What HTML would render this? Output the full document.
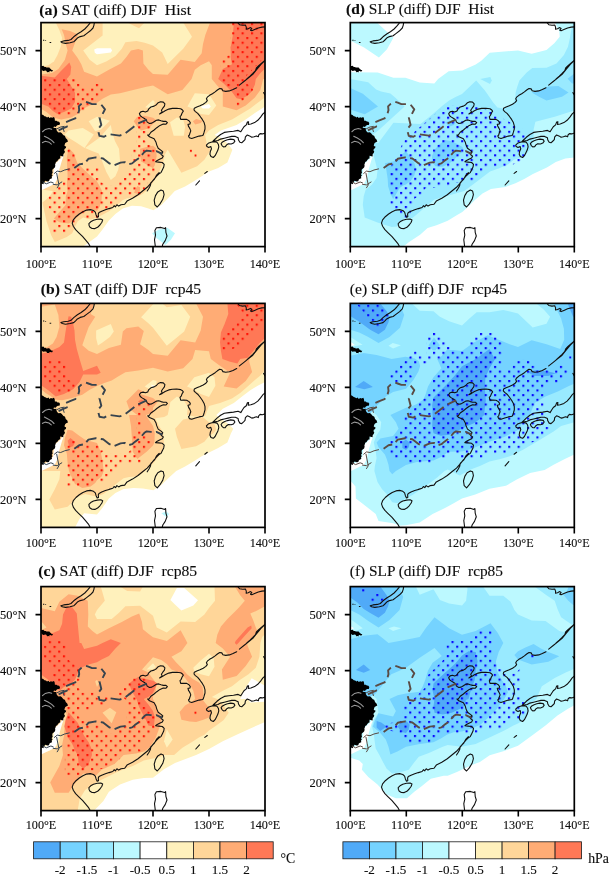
<!DOCTYPE html><html><head><meta charset="utf-8"><title>fig</title><style>html,body{margin:0;padding:0;background:#fff}svg{display:block;will-change:transform}text{font-family:"Liberation Serif",serif;fill:#0d0d0d;stroke:#0d0d0d;stroke-width:0.12px}</style></head><body>
<svg width="610" height="875" viewBox="0 0 610 875">
<defs>
<clipPath id="box"><rect x="0" y="0" width="224" height="224"/></clipPath>
<g id="coast">
<path d="M222.6 70L223.9 72.2M49.7 224.9L47.4 220.7L44.7 217.5L41.5 213.8L37.8 210.2L34.6 207L32.3 203.7L31.2 200.5L32.3 197.3L35 194.1L38.3 191.4L41.9 189.1L45.6 187.5L49.3 187L52.5 187.9L54.3 189.5L55.1 192.3L56.2 194.6L57.5 194.1L57.3 191.4L58 190L60.7 188.6L64.4 187.2L68.1 186L71.8 184.9L73.1 183.1L74.5 184.2L75.9 182.2L77.7 183.5L80 182.2L83.7 181.7L86 178.5L91.5 175.7L97 172.1L101.6 168.4L106.2 164.7L109.9 160.5L111.7 158.3L113.5 156.5L115.4 152.8L118.1 150M106.2 168.4L108 165.6L109.4 162.9L109.9 160.1L111.2 158.8L113.1 156.5L115.4 153.7L117.7 151.4L120 150L121.3 147.3L122.7 144.5L123.2 141.8L121.3 139.9L117.7 139.5L114.5 139.2L115.8 138.1L118.6 136.7L121.3 135.4L122.3 133.5L120.4 132.1L118.6 129.8L120.9 130.8L121.8 129.4L120.4 128L117.2 125.7L115.8 122.5L114.9 119.3L113.1 116.1L108.5 114.2L106.7 112.4L108 112.4L109.9 109.6L113.1 107.4L115.8 105.1L119 102.8L122.3 101.4L125 101.6L126.4 100L125 98.8L122.3 98.8L120 98.2L117.7 97.3L115.4 97.7L113.1 99.1L110.8 100.5L108.5 100.9L106.2 99.5L105.3 97.3L103.4 95.9L101.1 94.5L99.3 93.1L98.4 91.1L99.8 89.3L102.1 88.7L104.4 89.4L106.7 88.5L107.8 86.2L109.9 84.4L113.1 83.5L115.4 82.1L117.2 80.1L119.5 79.2L122.3 79.5L123.9 81.2L123.4 83.5L121.8 85.6L120.4 87.6L121.2 89.3L118.6 91.3L121.3 90L124.1 88.1L127.8 86.5L131.4 85.8L135.6 85.6L139.7 86.2M139.7 86.2L141.5 87.4L142.3 88.5L141.1 90.4L140.2 92.7L139 94L139.7 96.8L142.5 96.6L145.7 96.8L148 98.2L149.3 100L148.9 101.4L147 101.8L147.5 103.7L148.9 106L149.8 108.3L148.9 110.6L148.4 112.4L148.4 112.4L147.5 113.3L148.4 115.2L150.7 115.9L154.4 114.7L158.1 113.5L161.7 112.9L162.3 111.9M195.7 65.1L192 67L188.4 68.3L184.7 68.8L181.9 68.2L180.8 66.3L178.7 65.9L176.4 67.4L174.1 69.3L171.4 71.1L168.6 72.7L166.3 74.6L165.4 76.1L166.3 78L164.9 79.8L162.2 81.6L159 83.2L155.8 84.4L153.3 85.6L153 87.4L154.4 89L156.7 90.8L159 93.6L161.3 96.8L163.1 100L164 103.2L164 106.4L163.1 109.6L162.2 112.4M198.4 62.5L202.6 59.2L207.2 55.5L211.8 51.8L215.4 47.2L220 41.7L224.1 37.7M171.8 118.8L173.2 117.4L176 114.7L179.6 111.9L183.3 109.8L187.9 109.2L192.5 108.7L197.1 107.8L199.8 109.2L201.2 106.9L203 104.1L205.3 102.3L206.3 99.5L207.6 99.1L207.2 101.8L209.9 101.4L213.6 100L216.8 97.7L219.6 94.5L221.9 91.3L224.2 89.4M224.2 110.4L221.4 111.3L219.1 111L217.7 112.4L217.3 114.2L215.4 113.3L213.1 114.2L210.8 114.7L208.6 113.3L206.3 112.4L204.4 114.2L204 117L202.6 118.4L200.7 120.2L198.9 119.7L197.5 117.4L197.1 115.1L194.3 113.8L190.7 113.8L187 114.7L183.3 115.6L179.6 116.5L176.9 117.9L174.1 118.4L171.8 118.8M196.6 -0.1L198.5 2.1L201.7 2.7L204.4 2.4L205.3 4.5L205.2 6.6L207.2 6.1L209.5 5L210.8 5.9L209.5 7.6L210.8 8.2L213.6 7L217.3 5.4L220.9 4.5L224.2 4.3M224.2 37.6L220.9 40.3L217.7 43.1L215.4 45.4L214.5 48.1L211.8 50.9L209 53.6L205.8 56.4M163.8 150.8L166.3 148.9M154.8 162.4L158.5 158.3M165.4 122.5L167.2 120.7L170 119.6L173.2 119L176 119.7L177.3 121.6L177.8 124.3L176.9 127.5L175.5 130.3L174.1 133.1L172.3 134.9L170 134L168.9 131.7L169.3 128.9L170.5 126.2L169.8 123.9L167.7 124.8L165.9 123.9ZM180.1 121.1L181.5 119.3L183.8 118.1L186.5 117.2L189.7 116.5L192.9 117L193.9 118.6L192.5 120.5L190.2 121.4L187.4 121.1L185.6 122.3L184.2 124.2L182.4 124.3L181 123ZM47.9 201L49.7 199.2L52.5 197.6L56.2 196.7L59.8 196.4L61.7 197.3L60.9 199.6L58.9 202.4L56.6 204.7L53.9 206L51.1 205.9L49 204.7L48.1 202.8ZM120 167.5L122.3 168.4L123.1 172.1L121.8 176.7L119 181.3L116.3 184.4L113.9 182.2L113.2 177.6L114.5 173L116.8 169.3ZM114.5 225.3L113.5 217.1L114.5 212.5L113.9 207.9L115.4 205.1L120 204.8L123.6 206L124.6 205.1L124.9 209.7L126 213.4L124.2 218L121.8 221.6L120.9 225.3ZM49.3 -0.1L48.4 1.3L46.5 3.6L43.8 6.4L40.1 9.1L36.4 11.4L32.7 14.2L30 16.9L27.2 17.8L22.7 18.3L19.9 19.2L21.3 20.1L24.5 20.8L29.1 20.1L32.7 19.2L34.6 17.4L36.4 15.5L39.2 14L42.8 13.1L45.6 11L49.3 8.2L52 5.4L52.9 2.7L53.4 -0.1Z" fill="none" stroke="#111" stroke-width="1.1" stroke-linejoin="round" stroke-linecap="round"/><path d="M23.7 130.8L21.2 137.1L18.5 146.3L16.6 155.4L13.9 161.2L-0.4 168.1L-0.4 161.7L6.5 158.9L12.2 153.1L13.4 141.7L18.5 137.1Z" fill="#fff"/><path d="M-1.7 92.3L0.8 91.8L2.2 92.5L3.5 93.7L4.9 94L6 94.8L7.6 94.1L8.3 95.5L10 94.6L11.1 95.2L13 94.4L13.7 95.9L13.9 98.1L15.5 98.1L16.5 99L18.1 99.1L18.9 100.3L19.1 100.2L18.5 102.4L16.9 102.3L15.6 103.1L14.7 104.3L13.2 104L12.2 104.9L13.6 105.5L15.4 105.4L15.6 107.6L16.4 108.9L17.5 109.9L19.4 109.7L20.6 110.4L21.6 111.6L22.5 112.6L23.8 113.1L24.4 114.4L24.7 115.5L26.2 116.9L27 119L25.6 119.7L24.3 120.5L23.4 122.8L24.5 123.8L25.1 123.7L24.9 125.5L23.5 126.3L23.2 127.9L24 129.2L23.4 130.5L22.4 131.5L22.3 133.8L19.3 133.2L19.2 134.6L19.2 136L18.2 136.2L17 137.4L16.3 138.7L14.9 139.4L14.6 140.8L14.1 141.5L14.3 143.3L13.8 145L12.7 145.9L11.5 146.8L11.3 148.5L11.7 150.1L10.6 151.6L11.6 152.7L10.7 153.8L11 155.6L9.7 156.2L8.5 157L8 158.6L6.5 158.8L4.3 158.2L2.9 159.8L2.5 161.7L0.5 160.9L-1.6 162.3ZM0.1 43.4L1.2 43.4L2.3 43.1L3 43.9L3.6 44.5L5 44.4L5.2 45L6.2 45L7.3 44.9L8.4 44.9L9 46L9.9 46.3L10.6 47.3L12 47.3L11.2 48.8L10.3 48.8L9.3 48.5L8.4 48.6L8.3 49.8L7.6 49.5L6.1 49.7L5.7 48.9L5.2 48.1L4.3 48L3.4 48.2L2.3 48.3L1.4 47.8L0.7 47.2L0.2 46.3Z" fill="#000"/><path d="M2 17.2h1.3v1h-1.3zM8.6 19.4h1.6v0.9h-1.6zM4.2 17.6h0.9v0.8h-0.9z" fill="#111"/><path d="M1.5 109.1L4.3 106.8L8 105.9L10.7 106.6M3.4 113.7L7 115.5L10.7 117.8L13 120.1M1.1 120.1L4.3 118.7L8 119.6L10.3 121.5" fill="none" stroke="#9a9a9a" stroke-width="1.1" stroke-linecap="round"/><path d="M13.4 150.8L16.2 148.5L19.7 149.1L23.7 147.4L28.3 146.3M1.9 159.4L5.3 161.2L9.9 159.4L12.2 160.3M12.2 161.7L16.2 162.3L20.8 159.4M15.7 150.8L16.8 156.6L18 162.3L16.2 165.2M16.2 106.1L19.7 104.4L23.1 103.8M22 104.9L23.1 109" fill="none" stroke="currentColor" stroke-width="1.0" stroke-linecap="round"/><path d="M17.6 107.7L21.8 105.8L25.9 104L24 99.9L29.1 97.7L34.2 95.8L37.1 91.6L38.2 87.5L37.8 83.8L40.1 81.5L44.7 79.2L47.4 80.1L51.1 81.5L55.7 81.5L60.3 82.1L64 86.7L61.2 92.2L58.5 95L60.3 102.3L57.5 106L57.5 109.6L58.5 113.3L63.1 114.2L67.6 111.5L78.6 113L83.2 111.5L91.5 105.1L96.1 101.4L103 98.2L105.8 96.9" fill="none" stroke="currentColor" stroke-width="1.9" stroke-dasharray="11 4.8" stroke-dashoffset="1" stroke-linejoin="round"/><path d="M33.3 145.3L38.2 141.8L43.7 140.8L47.4 136.2L54.8 134.8L62.1 135.9L68.5 140.8L73.1 142.7L79.5 140L83.7 139.5L87.4 141.8L91.1 140.8L93.8 138.5L97.4 135.8L100.7 132.6L103.4 129.4L105.7 128L109.9 128.5L113.1 128.9L115.4 128.5L119.1 130.3L121.4 131.2" fill="none" stroke="currentColor" stroke-width="1.9" stroke-dasharray="11.5 4.4" stroke-dashoffset="1.7" stroke-linejoin="round"/>
</g>
</defs>
<rect width="610" height="875" fill="#fff"/>
<g transform="translate(41,22.6)">
<g clip-path="url(#box)">
<rect x="-1" y="-1" width="226" height="226" fill="#ffd699"/><path d="M0 0L14.7 0L18.4 7.7L21.1 15.1L19.7 24.2L16.5 32.5L12.9 39L7.3 42.6L0 44.5Z" fill="#fff1bc"/><path d="M61.6 0L61.6 12.9L42.2 28L48.7 37.1L56 42.6L65.2 39L74.4 33.4L80.8 26.1L84.4 19.7L95.5 18.3L103.7 20.2L112 23L121.2 29.8L126.7 41.3L142.2 26.1L151 14.2L142.2 0L103.6 0L98 5.6L86.2 0Z" fill="#fff1bc"/><path d="M53.2 26.9L56 25.6L69.8 25.6L71.1 28L69.8 29.8L56 31.6L53.8 30.2Z" fill="#ffffff"/><path d="M47.7 98.6L56 94.1L68.9 98.2L60.1 107L54.2 108.6Z" fill="#fff1bc"/><path d="M23 112.4L27.6 107.8L38.6 106L41.8 105.5L52.8 112L43.6 125.3L34.9 119.7L27.6 115.1L23.9 112.4Z" fill="#fff1bc"/><path d="M44.1 125.3L53.8 118.4L59.2 114.7L64.7 108.2L69.8 102.3L71.1 109.2L73.9 118.4L78 126.2L79 138.1L77.1 147.3L74.4 153.7L69.8 157.4L65.2 149.1L60.6 137.2L57.7 131L51 128.5Z" fill="#fff1bc"/><path d="M104.2 84.6L112 77.5L113.8 79.4L112 86.2Z" fill="#fff1bc"/><path d="M146.4 84L153.8 70.6L168 71.7L175.3 83L168 92.4L159.7 91.3L153.3 86.7Z" fill="#fff1bc"/><path d="M159.7 84L168 81.5L169.8 84L168 85.8L161.6 85.8Z" fill="#ffffff"/><path d="M129 99.6L135.9 95L142.2 96.8L144.1 104.2L142.8 113.1L132.7 113.1Z" fill="#fff1bc"/><path d="M11.9 168.4L10.1 172L5.5 176.7L1.4 179.8L5.6 198.8L10.1 212.5L13.8 219.4L25.8 214.3L31.2 210.6L34 204.2L36.7 198.7L42.2 195L49.6 196.8L56 195L61.5 192.2L67.9 188.6L75.3 183.1L81.8 177.5L86.2 175.7L94.6 174.8L101.9 171.1L105.1 168.4L112 160.2L117.5 151L122.1 140L123.9 131.6L126.7 127.1L140.4 150.1L156.1 143.6L163.4 137.2L169.7 127.1L165.8 121.5L164.1 112.4L168 107.8L177.2 102.3L191 96.8L200.1 91.3L209.3 85.8L216.7 80.2L224 74.8L224 224L0 224L0 166.9Z" fill="#fff1bc"/><path d="M42 224L47.7 219.8L56 213.9L61.5 207L67.9 197.8L74.4 191.4L81.8 185.9L90.9 183.1L100.1 183.6L107.4 185.9L112.4 187.6L120.7 182.2L127.1 175.7L133.8 168.4L144.1 163.8L153.3 158.3L160.7 153.7L168 149L177.2 145.4L186.4 140L191.4 127.1L186.4 120.7L179.9 115.1L173.6 112.4L179.9 107.8L195.6 102.3L204.7 96.8L213.9 90.4L224 84L224 224Z" fill="#ffffff"/><path d="M111.1 210.6L118 207L126.2 205.1L134 210.6L129.9 217.1L124.3 222.5L118.7 218L114.2 214.3Z" fill="#bcf9ff"/><path d="M0 51.8L11 50.4L17.4 46.3L23.9 37.1L26.6 28L24.8 21.5L23 12.3L20.7 6.7L29.1 8.4L37 11.8L31.2 28L36.7 35.3L40.3 41.7L43.1 49.1L56 53.8L67.9 47.2L79.9 40.8L85.4 34.4L90 28L97.3 26.5L101.9 28L102.4 40.8L107.4 47.2L112 51.5L126.7 52.2L139.6 37.1L153.8 39.4L160.7 30.7L162 21.5L164.3 12.3L169.1 0L224 0L224 56.4L222.2 56.4L219.4 67.4L213.9 74.8L204.7 83L195.6 87.6L181.8 84L181.8 69.3L175.3 61.9L170.8 56.4L170.8 42.6L168 38.6L159.7 42.6L153.8 47.2L150.6 56.4L141.4 67.4L126.7 71.6L112 63L105.6 64.2L97.3 66.1L88.1 68.3L79 70.6L69.8 72L61.5 76.2L56 80.1L48.7 83L41.3 86.7L36.7 91.3L30.2 95L20.2 96.8L11.9 95L5.5 89.4L0 86.2Z" fill="#ffac75"/><path d="M27.6 125.3L32.6 130.3L36.3 140.4L41.3 145.4L48.7 152.3L56 159L58.8 163.8L61 168.4L60.6 177.5L58.8 184L56 188.2L49.6 186.8L43.1 189.1L36.7 194.1L31.7 198.7L27.6 201L18.4 199.6L12.9 196L18.4 189.5L24.8 182.2L24.8 173.9L26.6 168.4L25.8 162L26.6 153.7L26.2 144.5L25.8 135.4Z" fill="#ffac75"/><path d="M92.7 98.6L96.3 94.1L103.7 93.1L112 95.2L115.7 97.7L112 101.4L107.4 106L100.1 107.8L96.3 104.2Z" fill="#ffac75"/><path d="M99.1 126.2L105.6 124.3L112 123.2L114.8 125.3L115.7 133.5L113.8 142.7L112 145.6L105.6 141.8L100.1 139L99.1 132.6Z" fill="#ffac75"/><path d="M151.9 98.6L155.1 96.3L161.6 98.2L159.7 100.5L154.2 101.9Z" fill="#ffac75"/><path d="M93 170.2L96.3 163.5L99.1 164.6L98.6 171.9Z" fill="#ffac75"/><path d="M0 53.2L13.8 54.9L20.2 48.2L28.4 39.9L30.2 44.5L29.4 51.8L25.8 56.4L30.2 63.7L34 70.2L34 79.4L30.2 85.8L23 89.4L16.5 91.3L11.9 88.5L7.3 84L0 81.2Z" fill="#ff7856"/><path d="M192.8 0L191.9 12.3L189.6 25.2L190 37.1L191 41.7L181.8 46.3L177.2 56.4L182.7 61L191 69.3L195.6 75.7L200.1 76.6L206.6 72.9L211.1 68.3L213.9 61.9L214.8 56.4L219.5 50.4L224 45.9L224 0Z" fill="#ff7856"/><pattern id="sta" patternUnits="userSpaceOnUse" x="7.9" y="5" width="9.4" height="9.4"><rect x="0" y="0" width="2.1" height="2.1" fill="#ff1206"/><rect x="4.7" y="4.7" width="2.1" height="2.1" fill="#ff1206"/></pattern><path d="M1.7 55.2L11.2 55.2L13.8 50.4L16.2 55.2L34.7 55.2L39.8 59.9L39.8 64.7L53.2 64.7L53.2 59.9L58.2 59.9L63.3 67.2L58.2 73.9L53.8 78.7L48.7 83.4L44.2 87.9L30.2 93L16.2 93L11.2 87.9L6.7 83.4L1.7 78.7ZM25.2 125.7L34.7 125.7L34.7 144.5L58.2 144.5L58.2 149L53.5 151.4L58.2 154L58.2 158.5L63 160.8L63 163.2L76.4 163.2L76.4 158.5L81.2 154L85.7 149L90.7 144.5L90.7 125.7L95.2 123.2L95.2 92.4L100.2 92.4L109.8 101.9L109.8 106.7L100.8 115.9L105 118.4L114.5 125.7L114.5 149L109.8 154L105 163.2L105 168L100.2 172.5L76.7 172.5L76.7 177.2L72.2 182L67.2 186.5L58.2 186.5L58.2 196L53.8 196L53.8 191.2L48.7 191.2L48.7 196L44.2 196L44.2 191.2L34.7 191.2L34.2 200.5L30.2 205.5L25.2 210L11.2 210L11.2 198.2L16 193.6L11.2 189.1L6.7 184.2L11.2 179.6L6.7 175L11.2 170.2L16 165.5L20.7 160.8L25.2 156.2ZM189.1 -1.1L225.1 -1.1L225.1 34.2L221.8 36.4L217.3 41.2L212.5 45.9L208 50.7L203.3 55.4L203.3 59.9L208 62.4L212.5 67.2L208 71.7L203.3 76.4L198.5 83.4L193.5 83.4L193.5 79L198.5 76.4L193.5 71.7L198.5 67.2L193.5 64.7L184.2 64.7L179.8 59.9L179.8 36.4L189.1 31.6ZM147.2 126.1L151.1 126.1L151.1 130L147.2 130ZM151.8 130.6L155.7 130.6L155.7 134.6L151.8 134.6Z" fill="url(#sta)"/>
<use href="#coast" color="#37434e"/>
</g>
<rect x="0" y="0" width="224" height="224" fill="none" stroke="#000" stroke-width="1.7"/>
<path d="M0 224v6M56 224v6M112 224v6M168 224v6M224 224v6M0 28h-5.5M0 84h-5.5M0 140h-5.5M0 196h-5.5" stroke="#000" stroke-width="1.6" fill="none"/>
<text x="-15.3" y="245.1" font-size="13.1" textLength="30.6" lengthAdjust="spacingAndGlyphs">100°E</text>
<text x="40.7" y="245.1" font-size="13.1" textLength="30.6" lengthAdjust="spacingAndGlyphs">110°E</text>
<text x="96.7" y="245.1" font-size="13.1" textLength="30.6" lengthAdjust="spacingAndGlyphs">120°E</text>
<text x="152.7" y="245.1" font-size="13.1" textLength="30.6" lengthAdjust="spacingAndGlyphs">130°E</text>
<text x="208.7" y="245.1" font-size="13.1" textLength="30.6" lengthAdjust="spacingAndGlyphs">140°E</text>
<text x="-40.9" y="32.4" font-size="13.1" textLength="26.4" lengthAdjust="spacingAndGlyphs">50°N</text>
<text x="-40.9" y="88.4" font-size="13.1" textLength="26.4" lengthAdjust="spacingAndGlyphs">40°N</text>
<text x="-40.9" y="144.4" font-size="13.1" textLength="26.4" lengthAdjust="spacingAndGlyphs">30°N</text>
<text x="-40.9" y="200.4" font-size="13.1" textLength="26.4" lengthAdjust="spacingAndGlyphs">20°N</text>
<text x="-1.8" y="-8.1" font-size="14.4" xml:space="preserve" textLength="151.9" lengthAdjust="spacingAndGlyphs"><tspan font-weight="bold">(a)</tspan> SAT (diff) DJF  Hist</text>
</g>
<g transform="translate(41,303.4)">
<g clip-path="url(#box)">
<rect x="-1" y="-1" width="226" height="226" fill="#ffd699"/><path d="M55.1 27.2L69.8 20.7L72.8 28L68.9 33.6L61.5 39.1L56.9 42L55.1 34.5Z" fill="#fff1bc"/><path d="M100.1 13.8L111.4 1.7L113.1 0L121.2 0L125.8 3.8L140.4 1.5L149.2 13.4L143.2 28L125.8 42.3L112 24.4L107.4 19.8Z" fill="#fff1bc"/><path d="M103.7 83.2L112 76.7L115.7 77.6L114.8 82.3L112 85.1L107.4 85.1Z" fill="#fff1bc"/><path d="M109.8 81.2L114.2 82.6L112 84Z" fill="#ffffff"/><path d="M146 83.2L153.3 73.9L168 69.4L173.5 73.9L174.4 82.3L168 93.5L159.7 90.5L152.3 85.9Z" fill="#fff1bc"/><path d="M19.3 167.6L18.4 175.8L13.8 185.9L8.3 196L13.8 206.2L26.6 203.4L31.2 198.8L36.7 193.3L44.1 190.6L51.4 192.4L56 193.2L62.4 190.6L69.8 185.1L76.2 179.5L82.6 174.9L88.1 173.6L95.5 173.1L101.9 169.5L103.7 167.6L112 160.3L115.7 155.7L121.2 148.4L123 139.2L122.1 129L117.5 121.7L114.2 114.8L123.2 113.7L126.7 111.6L129.4 98.7L135.9 93.2L142.2 96L146.9 103.3L146 111.6L154 113.1L164.1 112.6L168 102.5L179 99.7L191 95.1L199.2 89.6L206.6 83.2L213.9 76.7L219.4 72.1L224 66.6L224 224L0 224L0 167.6Z" fill="#fff1bc"/><path d="M134 125.4L142.2 116.2L150.6 114.4L161.6 113.5L168 118.9L173.5 120.8L175.3 126.3L172.6 129.9L168 132.7L163.4 138.3L155.1 142.8L140.4 145.6L135.9 133.6Z" fill="#ffd699"/><path d="M34 224L38.6 215.3L43.1 209.8L56 211.1L61.5 204.4L67.9 195.2L74.4 189.6L82.6 185.5L92.7 184.6L101.9 185.1L112.4 186.9L120.7 181.4L128.1 174L135.2 167.6L144.1 163L153.3 157.5L160.7 152.9L168 149L177.2 144.6L186.4 139.2L190 129.9L192.3 125.4L186.4 119.8L179.9 115.4L175.3 111.6L181.8 105.3L192.8 99.7L202 92.4L209.3 86.8L216.7 82.3L224 78.6L224 224Z" fill="#ffffff"/><path d="M120.3 209.8L125.3 208L128.1 210.7L125.3 213.5Z" fill="#bcf9ff"/><path d="M0 0L53.2 0L51.5 5L49.6 10.6L54.2 13.4L47.7 23.5L44.1 33.6L41.3 41.8L47.7 47.3L56 50.7L67.9 44.6L79.9 41.4L81.8 28L85.4 24.9L97.3 23L102.8 27.6L99.1 40.9L107.4 46.5L112 50.7L126.7 52.4L139.6 36.8L154.2 39.1L159.7 27.2L162 13.4L155.1 0L224 0L224 36.4L219.4 40.9L213.9 48.2L208.3 55.6L208.3 58.4L211.1 68.5L204.7 77.6L195.6 85L182.7 83.2L189.1 69.4L177.2 61.1L169.8 55.6L168 47.8L154.2 46.5L151.5 55.6L142.2 64.8L126.7 68L112 64.4L105.6 65.7L97.3 67.1L84.4 68.9L77.1 73L70.7 77.2L63.3 79.5L56 82.5L48.7 86.4L41.3 91.4L31.2 94.6L21.1 96.9L13.8 96L9.2 92.4L4.5 89.6L0 85.7Z" fill="#ffac75"/><path d="M0 3.4L13.8 1L17.4 11.5L18.4 23.5L15.6 33.6L11.9 40L6.4 43.7L0 45.5Z" fill="#ffd699"/><path d="M26.6 126.3L31.2 127.2L38.6 132.7L44.1 136.4L56 139.6L59.7 148.4L61.5 157.5L62.7 167.6L60.6 173L56 176.8L54.2 179.5L49.6 183.2L41.3 184.6L34 180.5L31.2 174.9L28 167.6L26.6 159.3L25.8 150.2L23 141.9L23.9 134.6Z" fill="#ffac75"/><path d="M26.6 137.3L29.4 134.6L34 138.3L32.1 142.8L28.4 143.8Z" fill="#ff7856"/><path d="M85.4 97.8L90.9 92.4L97.3 85.9L101.9 87.8L99.1 90.5L112 94.6L116.6 98.7L112 104.3L112 109.8L104.7 111.6L112 122.6L113.8 129.9L113.4 139.2L112 142.2L105.6 148.4L96.3 155.7L91.8 148.4L90.9 134.6L90 122.6L88.1 111.6L96.3 111.6L88.1 105.3Z" fill="#ffac75"/><path d="M96.9 97.8L101 96L102.8 97.4L99.1 99.2Z" fill="#ff7856"/><path d="M0 50.1L5.5 49.3L11.9 46.5L18.4 43.7L23 39.1L24.3 29.9L25.8 20.7L27.6 12.9L30.2 13.4L32.1 19.8L33.5 27.2L34 36.4L35.8 45.5L38.6 55.6L42.2 67.5L56 62.3L59.7 69.4L56 71.1L42.2 71.2L38.6 78.6L32.1 85.9L23 90.5L14.7 93.2L7.3 86.8L0 81.8Z" fill="#ff7856"/><path d="M186.4 0L187.3 10.6L183.6 20.7L179.9 29L179 39.1L179.9 47.3L181.4 55.6L189.1 58.4L196.4 60.2L199.2 55.6L206.6 54.3L212.8 47L218.4 39.8L224 34.7L224 0Z" fill="#ff7856"/><pattern id="stb" patternUnits="userSpaceOnUse" x="7.9" y="1.4" width="9.4" height="9.4"><rect x="0" y="0" width="2.1" height="2.1" fill="#ff1206"/><rect x="4.7" y="4.7" width="2.1" height="2.1" fill="#ff1206"/></pattern><path d="M6.7 56.3L20.7 56.3L25.5 61L25.5 75L30.2 77.6L34.7 82.3L30.2 87L30.2 89.6L16 89.6L16 84.6L11.2 84.6L11.2 80.1L6.7 80.1L6.7 75.3L1.7 75.3L1.7 61ZM194.3 -1.1L225.1 -1.1L225.1 16.8L199.4 43.1L185.4 47.6L180.3 47.6L180.3 35.3L194.3 21.3L203.3 12.1ZM29.7 136.1L34.7 136.1L34.7 140.8L58.2 140.8L62.7 148.1L58.2 150.4L85.7 150.4L90.7 145.6L90.7 131.6L95.2 128.8L95.2 98.6L109.8 98.6L109.8 103L100.8 112.6L100.8 126.6L105 131.6L109.5 136.1L109.5 140.8L100.2 150.4L100.2 159.6L76.7 159.6L76.7 164.4L62.7 178.4L48.7 178.4L48.7 183.1L25.2 183.1L25.2 169.1L29.7 166.7L25.2 164.4L25.2 159.6L34.7 152.7L29.7 148.1L25.2 145.6L25.2 140.8L29.7 140.8Z" fill="url(#stb)"/>
<use href="#coast" color="#37434e"/>
</g>
<rect x="0" y="0" width="224" height="224" fill="none" stroke="#000" stroke-width="1.7"/>
<path d="M0 224v6M56 224v6M112 224v6M168 224v6M224 224v6M0 28h-5.5M0 84h-5.5M0 140h-5.5M0 196h-5.5" stroke="#000" stroke-width="1.6" fill="none"/>
<text x="-15.3" y="243.8" font-size="13.1" textLength="30.6" lengthAdjust="spacingAndGlyphs">100°E</text>
<text x="40.7" y="243.8" font-size="13.1" textLength="30.6" lengthAdjust="spacingAndGlyphs">110°E</text>
<text x="96.7" y="243.8" font-size="13.1" textLength="30.6" lengthAdjust="spacingAndGlyphs">120°E</text>
<text x="152.7" y="243.8" font-size="13.1" textLength="30.6" lengthAdjust="spacingAndGlyphs">130°E</text>
<text x="208.7" y="243.8" font-size="13.1" textLength="30.6" lengthAdjust="spacingAndGlyphs">140°E</text>
<text x="-40.9" y="32.4" font-size="13.1" textLength="26.4" lengthAdjust="spacingAndGlyphs">50°N</text>
<text x="-40.9" y="88.4" font-size="13.1" textLength="26.4" lengthAdjust="spacingAndGlyphs">40°N</text>
<text x="-40.9" y="144.4" font-size="13.1" textLength="26.4" lengthAdjust="spacingAndGlyphs">30°N</text>
<text x="-40.9" y="200.4" font-size="13.1" textLength="26.4" lengthAdjust="spacingAndGlyphs">20°N</text>
<text x="-0.2" y="-9.6" font-size="14.4" xml:space="preserve" textLength="160.3" lengthAdjust="spacingAndGlyphs"><tspan font-weight="bold">(b)</tspan> SAT (diff) DJF  rcp45</text>
</g>
<g transform="translate(41,586.6)">
<g clip-path="url(#box)">
<rect x="-1" y="-1" width="226" height="226" fill="#ffd699"/><path d="M59.7 0L79 0L86.2 4.5L99.1 5L101.9 0L173.5 0L174 14.2L168 21.3L163.4 28L154.2 35.3L139.6 34.8L125.8 45.9L115.7 40.8L112 29.1L99.1 19.2L84.4 19.7L78 26.1L70.7 32.5L56 32.5L53.8 28L56 23.4L63.8 14.2L61.5 5.9Z" fill="#fff1bc"/><path d="M129.4 13.3L135.9 1.3L143.2 1.3L157 13.7L152.3 18.8L140.4 23.8L135 18.8Z" fill="#ffffff"/><path d="M152.3 81.2L159.7 73.9L168 67.2L172.6 71.1L173.5 80.2L168 89.6L159.7 87.6L153.3 84.8Z" fill="#fff1bc"/><path d="M105.6 83L112 76.7L114.8 80.2L112 82.9Z" fill="#fff1bc"/><path d="M123 154.6L125.8 142.7L131.7 152.8L125.8 161.1Z" fill="#fff1bc"/><path d="M36.7 224L38.6 212.5L44.1 203.3L55.1 196L66.1 190.4L77.1 184.9L91.8 179.4L102.8 173.9L112 171.9L119.3 170.2L123 168.4L133.1 168.4L141.4 161.1L150.6 155.6L157.9 151L163.4 148.2L168 143.9L175.3 139L182.7 133.5L187.7 126.2L181.8 117.9L176.4 112.4L170.8 110.3L181.8 104.2L191 99.6L199.2 93.1L207.5 87.6L214.8 81.2L218.4 70.2L219.4 56.4L221.2 50.4L224 47.6L224 224Z" fill="#fff1bc"/><path d="M53.2 224L62.4 214.3L67.9 205.1L79 197.8L91.8 193.2L102.8 191.4L112 191.2L123 182.6L134 176.4L155.1 168.4L168 162.4L181.8 154.6L195.6 148.2L209.3 141.8L224 135.4L224 224Z" fill="#ffffff"/><path d="M210.7 91.7L224 99.1L224 115.1L209.3 116L206.6 112.4L199.2 112.4L203.8 102.3Z" fill="#ffffff"/><path d="M0 21.5L13.8 24.7L18.4 15.1L27.6 7.7L36.7 9.1L46.8 14.2L47.3 28L46.8 39.9L51.4 44.5L56 47.9L67.9 41.7L80.8 35.3L90.9 29.8L98.2 27L101 35.3L101.9 42.6L107.4 47.2L112 50.7L125.8 54.5L139.6 43.6L144.1 51.8L146.4 56.4L140.4 64.7L130.4 70.2L135 75.7L141.4 82.1L146 87.6L151.5 92.2L157.9 95.9L161.6 100.5L162.4 107.8L161.6 113.1L166.2 118.8L170.8 124.3L169.8 128L168 130.8L161.6 133.5L155.1 135.4L148.7 135L140.4 133.1L138.6 125.3L144.1 118.8L150.6 115.1L154.2 112.4L152.3 104.2L148.7 97.7L144.1 91.3L138.6 85.8L130.4 83L125.8 77.5L120.3 73.4L112 70.6L101 83L107.4 85.8L110.3 90.2L114.2 95.2L114.8 104.2L112 109.2L112 112.4L114.8 117.9L116.6 124.3L121.2 130.8L119.3 138.1L117.5 143.6L114.8 151L112 155.6L109.2 160.2L103.6 164.6L95.2 166.9L82.6 168.4L73.4 177.5L60.6 183.1L55.1 188.6L42.2 186.8L33 197.8L27.6 206.1L13.8 206.1L9.2 196L18.4 179.4L22 168.4L21.1 158.3L23 149.1L23.9 135.4L25.8 128.8L23.5 120.4L19.6 112L0 109.2Z" fill="#ffac75"/><path d="M61.5 126.2L68.9 121.1L75.3 125.7L70.7 136.7Z" fill="#ffd699"/><path d="M0 34.4L5.5 40.8L0 43.6Z" fill="#ffd699"/><path d="M54.2 95L56 93.1L57.8 96.8L56 100.5Z" fill="#ffd699"/><path d="M11.9 140L18.4 142.7L19.3 151L17.4 158.3L9.2 163.8L0 167.4L0 155.1L5 151.8L10.6 148.4Z" fill="#fff1bc"/><path d="M193.8 0L199.2 8.7L203.8 14.2L198.2 20.6L193.8 25.2L186.4 32.5L179.9 39.9L176.3 48.2L174.7 56.4L181.8 61.9L189.1 70.2L180.9 83L181.8 93.1L195.6 89.4L204.7 79.4L211.1 70.2L206.6 59.1L206.1 56.4L216.7 45.4L214.8 40.8L212.1 33.4L209.3 27L215.7 24.2L224 19.6L224 0Z" fill="#ffac75"/><path d="M193.8 56.4L195.6 58.2L197.4 56.4L204.7 48.2L210.7 41.7L210.2 39L206.6 40.8L200.1 48.2L194.6 54.5Z" fill="#ff7856"/><path d="M0 48.2L11.9 46.3L18.4 43.6L21.1 37.1L22 28L25.8 20.2L31.2 20.6L35.8 27L36.7 37.1L37.6 46.3L38.6 56.4L40.3 56.4L43.1 62.4L56 59.1L61.5 56.4L69.8 52.7L79.9 56.4L74.4 61.9L67.9 69.3L60.6 72.9L56 75.6L47.7 78L40.3 81.2L36.7 86.7L34 93.1L29.4 97.7L23 100.5L18.4 104.2L13.8 99.6L7.3 93.1L0 87.9Z" fill="#ff7856"/><path d="M27.6 125.7L31.2 129.9L36.7 136.2L40.3 143.6L43.1 149.1L47.7 155.6L50.4 162L51 168.4L47.7 177.5L42.2 182.2L37.6 177.5L36.7 168.4L34 163.8L31.2 157.4L27.6 151.9L25.8 147.3L23.4 140L24.8 133.5Z" fill="#ff7856"/><path d="M88.1 96.8L92.7 93.1L97.3 90.4L103.7 92.2L112 94.1L116.6 96.8L113.8 102.3L112 106.4L107.4 110.5L102.8 112.4L107.4 117.9L112 124.3L113.8 130.8L112.9 140L107.4 139L103.7 130.8L98.2 120.7L95.5 112.4L92.7 107.8L90 102.3Z" fill="#ff7856"/><pattern id="stc" patternUnits="userSpaceOnUse" x="3.1" y="2.9" width="9.4" height="9.4"><rect x="0" y="0" width="2.1" height="2.1" fill="#ff1206"/><rect x="4.7" y="4.7" width="2.1" height="2.1" fill="#ff1206"/></pattern><path d="M6.7 53.2L20.7 53.2L25.5 57.7L25.5 71.7L34.7 79L39.8 83.8L34.7 86.2L39.8 93.1L34.7 95.8L34.7 100.2L39.8 102.6L39.8 105L53.5 105L53.5 109.8L62.7 114.2L62.7 118.7L48.7 118.7L48.7 123.8L34.7 123.8L34.7 128.2L39.8 130.8L44.2 135.4L44.2 137.8L58.2 137.8L62.7 142.2L62.7 147L76.4 147L76.4 142.2L81.2 137.8L85.7 135.4L85.7 123.8L90.7 121.3L85.7 118.7L85.7 114.2L81.2 109.8L76.4 107.4L81.2 102.6L85.7 97.9L90.7 90.7L105.3 90.7L105.3 105L100.2 109.8L100.2 114.2L105 121.3L109.5 126L105 130.8L109.5 135.4L109.5 147L105 151.8L100.2 156.5L95.5 161.3L100.2 163.5L100.2 165.8L76.7 165.8L76.7 170.5L80.8 170.5L77.1 173.9L69.8 179.4L55.1 184L45.9 184L42.2 188.6L23.9 188.6L23.9 168.4L25.2 165.8L29.7 163.5L25.2 161.3L25.2 137.8L29.7 135.4L25.2 133.3L25.2 128.2L29.7 126L25.2 123.8L25.2 118.7L29.7 116.5L25.2 114.2L25.2 109.8L20.4 107.4L25.2 105L25.2 100.2L20.4 97.9L16 93.1L11.2 88.5L16 83.8L11.2 79.1L6.7 74.3L1.7 69.7L6.7 65L1.7 60.3L1.7 57.7ZM151.8 124L155.7 124L155.7 128L151.8 128ZM110 128.8L114 128.8L114 132.7L110 132.7ZM110 138L114 138L114 142L110 142ZM63 110L66.9 110L66.9 114L63 114Z" fill="url(#stc)"/>
<use href="#coast" color="#37434e"/>
</g>
<rect x="0" y="0" width="224" height="224" fill="none" stroke="#000" stroke-width="1.7"/>
<path d="M0 224v6M56 224v6M112 224v6M168 224v6M224 224v6M0 28h-5.5M0 84h-5.5M0 140h-5.5M0 196h-5.5" stroke="#000" stroke-width="1.6" fill="none"/>
<text x="-15.3" y="242.2" font-size="13.1" textLength="30.6" lengthAdjust="spacingAndGlyphs">100°E</text>
<text x="40.7" y="242.2" font-size="13.1" textLength="30.6" lengthAdjust="spacingAndGlyphs">110°E</text>
<text x="96.7" y="242.2" font-size="13.1" textLength="30.6" lengthAdjust="spacingAndGlyphs">120°E</text>
<text x="152.7" y="242.2" font-size="13.1" textLength="30.6" lengthAdjust="spacingAndGlyphs">130°E</text>
<text x="208.7" y="242.2" font-size="13.1" textLength="30.6" lengthAdjust="spacingAndGlyphs">140°E</text>
<text x="-40.9" y="32.4" font-size="13.1" textLength="26.4" lengthAdjust="spacingAndGlyphs">50°N</text>
<text x="-40.9" y="88.4" font-size="13.1" textLength="26.4" lengthAdjust="spacingAndGlyphs">40°N</text>
<text x="-40.9" y="144.4" font-size="13.1" textLength="26.4" lengthAdjust="spacingAndGlyphs">30°N</text>
<text x="-40.9" y="200.4" font-size="13.1" textLength="26.4" lengthAdjust="spacingAndGlyphs">20°N</text>
<text x="-2.8" y="-10.2" font-size="14.4" xml:space="preserve" textLength="159" lengthAdjust="spacingAndGlyphs"><tspan font-weight="bold">(c)</tspan> SAT (diff) DJF  rcp85</text>
</g>
<g transform="translate(350.3,22.6)">
<g clip-path="url(#box)">
<rect x="-1" y="-1" width="226" height="226" fill="#ffffff"/><path d="M0 0L26.6 0L43.1 15.1L36.7 26.6L28.6 34.9L13.8 24.8L0 17.9Z" fill="#bcf9ff"/><path d="M0 49.6L27.4 50L43.1 55.1L55.1 55.1L69.4 59.9L84 61L87.8 56.4L98.4 48.6L112 47.9L125.4 42L131 38.1L139.4 30.2L156.8 28.6L167.7 28L181.4 31.1L196.2 27.4L204 20.7L209.4 14.2L208.9 8.4L206.6 4.5L205 0L224 0L224 135L215 135.9L205.5 139.4L196.6 145L182.6 151.5L174.4 156.1L165.2 160.7L155.1 164.3L140.6 166.3L132.2 170.8L124.9 177.2L117.6 184.5L112 189.3L106.4 192.6L97.4 198.2L86.2 202.7L77.3 205.5L69.8 212.2L58.8 219.5L53.2 224L0 224Z" fill="#bcf9ff"/><path d="M0 56.4L17.9 59.6L25.8 67L30.8 68.8L40.1 70.9L45.1 75.2L54.3 84L28 107.9L16.8 115.9L0 115.9Z" fill="#99eaff"/><path d="M0 65.5L12.5 71.1L27.7 84L14.4 91.7L0 86.8Z" fill="#75d3ff"/><path d="M16.8 117.6L28 120.4L43.1 100.2L70.2 101.4L82.3 91.7L92.4 83L98.8 78L105.3 74.3L111.7 71.5L125.9 57.8L134.6 67.9L142.9 79.8L147.1 84.8L153.4 85.8L163.1 80.2L164.9 76.2L165.4 69.7L166.8 64.7L169.1 57.8L176.4 50L182 45.4L196.2 45.2L206.2 40.8L213.6 32.5L217.7 24.2L219.5 16L220.5 9.6L221.8 3.9L222.9 0L224 0L224 88L204.4 94.1L185.1 99.1L183.3 107L183.3 117.6L180.3 126L176.4 130.8L170 135.4L163.5 137.2L157.9 141.7L149 145.6L139.7 149L125 160.2L114 168.4L83.7 177.1L61.6 196L56 194.9L48.2 199.9L47 203.8L41.4 204.4L27.2 199.9L14.4 195L12.5 182.2L13.4 173.6L15.3 167.4L21.7 161.8L26.3 155.4L27.2 148.1L25.4 140.7L23.5 133.4L19.6 126Z" fill="#99eaff"/><path d="M129.9 56.4L140 54.5L141.5 57.8L139.7 61.4Z" fill="#99eaff"/><path d="M85.1 126.2L89.6 121.5L94.6 117.4L100.2 118.4L106.6 121.1L112.2 124.3L113.1 127.6L111.2 129.9L107.5 132.6L103.9 137.2L98.8 140.8L92.4 144.1L85.1 143.6L81.4 139L81.9 132.6Z" fill="#75d3ff"/><path d="M34.6 140.7L42.8 138.9L47.4 136.1L52.6 131L55.7 128.9L59.4 133.5L64 140L65.8 146.4L64 152.8L60.3 158.3L55.7 161.8L52.9 162.8L49.3 165.5L45.6 171.9L42.8 176.5L40.1 171L37.8 163.7L37.4 156.4L36 147.2Z" fill="#75d3ff"/><path d="M181.4 70L190.6 67.2L198 64L208.1 63.3L218.2 70L211.7 74.1L196.2 77.8L188.7 74.1Z" fill="#75d3ff"/><path d="M224 51L217.3 56.2L221.8 60.8L224 61Z" fill="#75d3ff"/><path d="M95.2 99.7L101.4 97.4L105.3 99.7L103.6 102.5L98.6 104.2Z" fill="#75d3ff"/><pattern id="std" patternUnits="userSpaceOnUse" x="7.5" y="4.8" width="9.4" height="9.4"><rect x="0" y="0" width="2.1" height="2.1" fill="#0606ff"/><rect x="4.7" y="4.7" width="2.1" height="2.1" fill="#0606ff"/></pattern><path d="M94.6 82.9L128.5 82.9L176.4 108.6L176.4 132.2L169.7 139.4L156.8 143.9L141.7 143.9L133.3 148.7L128.2 154L123.2 159L110.3 159L97.4 163.5L75 165.8L71.7 172.5L64.4 175.8L59.4 194.3L52.6 196L39.8 181.4L39.2 146.2L44.2 136.6L53.8 118.2Z" fill="url(#std)"/>
<use href="#coast" color="#5a4b44"/>
</g>
<rect x="0" y="0" width="224" height="224" fill="none" stroke="#000" stroke-width="1.7"/>
<path d="M0 224v6M56 224v6M112 224v6M168 224v6M224 224v6M0 28h-5.5M0 84h-5.5M0 140h-5.5M0 196h-5.5" stroke="#000" stroke-width="1.6" fill="none"/>
<text x="-15.3" y="245.1" font-size="13.1" textLength="30.6" lengthAdjust="spacingAndGlyphs">100°E</text>
<text x="40.7" y="245.1" font-size="13.1" textLength="30.6" lengthAdjust="spacingAndGlyphs">110°E</text>
<text x="96.7" y="245.1" font-size="13.1" textLength="30.6" lengthAdjust="spacingAndGlyphs">120°E</text>
<text x="152.7" y="245.1" font-size="13.1" textLength="30.6" lengthAdjust="spacingAndGlyphs">130°E</text>
<text x="208.7" y="245.1" font-size="13.1" textLength="30.6" lengthAdjust="spacingAndGlyphs">140°E</text>
<text x="-40.9" y="32.4" font-size="13.1" textLength="26.4" lengthAdjust="spacingAndGlyphs">50°N</text>
<text x="-40.9" y="88.4" font-size="13.1" textLength="26.4" lengthAdjust="spacingAndGlyphs">40°N</text>
<text x="-40.9" y="144.4" font-size="13.1" textLength="26.4" lengthAdjust="spacingAndGlyphs">30°N</text>
<text x="-40.9" y="200.4" font-size="13.1" textLength="26.4" lengthAdjust="spacingAndGlyphs">20°N</text>
<text x="-4.2" y="-8.4" font-size="14.4" xml:space="preserve" textLength="148" lengthAdjust="spacingAndGlyphs"><tspan font-weight="bold">(d)</tspan> SLP (diff) DJF  Hist</text>
</g>
<g transform="translate(350.3,303.4)">
<g clip-path="url(#box)">
<rect x="-1" y="-1" width="226" height="226" fill="#99eaff"/><path d="M224 118.9L210.8 122.6L203.3 128.1L185.1 139.2L172.3 146.5L159.6 152.9L150.1 155.7L139.2 158.2L129.6 162.6L120.4 166.2L109.4 172.2L97.4 166.2L94.2 167.6L86.9 174L79.5 179.5L70.4 185.9L62.2 191.5L55.7 195.2L47.4 199.8L41.9 198.8L36.4 190.6L31.8 185.9L27.2 178.6L24.1 167.6L24.5 163L26.3 154.7L25.4 148.4L23.5 139.2L26.3 131.8L30 126.3L30.9 118.9L26.3 111.6L19.6 106.4L0 106.4L0 224L224 224Z" fill="#bcf9ff"/><path d="M0 177L5.2 183.2L5.6 195.2L15.3 202.5L25.4 210.7L28.2 217.6L42.8 219.9L49.3 222.3L55.7 221.8L69.4 219L82.3 210.7L95.2 204.4L103.4 199.8L111.7 195.2L125 191L139.2 185.4L155.7 182.3L166.9 175.8L179.8 169.5L194.3 166.7L203.3 161.3L214.5 155.7L224 151.2L224 224L0 224Z" fill="#ffffff"/><path d="M61.6 0L69.4 7.4L83.2 7.8L89.6 13.4L98.8 17.9L111.7 22.1L119.1 15.2L126.4 8.8L139.2 8.8L153 6.5L167.7 10.1L182.4 24L196.2 20.3L199.8 13.4L193.4 6L186 0Z" fill="#bcf9ff"/><path d="M38.2 42.3L42.4 39.5L50.6 41.8L42.8 45Z" fill="#bcf9ff"/><path d="M0 33.6L12.3 41.4L0 43.7Z" fill="#bcf9ff"/><path d="M0 38.1L4.5 41.7L0 42.8Z" fill="#ffffff"/><path d="M0 0L49.3 0L53.9 11.5L49.7 24.4L39.2 33.6L28.2 39.5L18 33.6L8.9 29L0 26.3Z" fill="#75d3ff"/><path d="M0 0L30 0L36.4 7.8L39.2 13.4L38.2 18.9L34.6 26.3L28.2 30.8L19.9 26.3L13.4 21.6L7.1 17L0 12.5Z" fill="#50aaf8"/><path d="M0 52.4L13.4 49.6L26.3 51.5L41.4 55.6L55.2 53.3L64.4 55.2L68.5 57.9L69.9 62.5L68.1 68L63.1 76.7L55.7 85.4L42.8 88.6L36.4 92.4L27.2 101.5L22.6 107L19.6 110.3L0 110.3Z" fill="#75d3ff"/><path d="M4.8 83.6L13.4 77.6L22.6 83.6L14 85.9Z" fill="#50aaf8"/><path d="M86.9 55.6L88.8 55.6L96.5 46.5L103.4 46.5L111.7 47.6L123.6 39.1L137.4 31.8L148.4 36.4L159.4 40.9L167.7 43.7L181.4 36.8L196.2 40.9L209.9 45.5L213.9 36.4L213.6 25.3L210.8 15.2L207.2 7.8L203.8 0L224 0L224 80.4L219.1 82.3L208.1 87.8L195.2 93.2L184.2 99.7L179.6 111.6L172.3 118.9L167.7 126.6L161.3 129.9L154 133.6L142 137.3L129.9 141.9L121 145.6L111.7 148.1L97.9 148.3L92.4 152.9L83.2 157L66.6 158.5L55.7 161.6L45.6 167.6L41.9 170.8L39.2 167.6L38.2 161.3L36.4 155.7L34.6 151.1L28.2 143.8L26.3 139.2L30 135L42.8 132.7L48.3 125.4L45.6 118.9L40.1 111.6L55.7 104.3L60.3 103.3L66.6 100.6L73.1 96L75.4 90.5L77.7 83.2L83.2 73.9L91.1 64.8Z" fill="#75d3ff"/><path d="M78.2 41.8L83.7 34L89.6 41.8L85.1 46.9L82.3 46.5Z" fill="#75d3ff"/><path d="M111.7 62.9L105.3 71.2L97 80.4L89.6 87.8L83.2 94.2L81.9 101.5L82.3 111.6L81.9 123.5L83.2 129.9L90.6 132.3L98.8 131.3L105.3 128.1L111.7 125.4L117 122.6L123.6 119.8L129.9 115.4L133.8 111.6L134.6 104.3L135.5 96.9L134.6 85.9L135.1 73.9L139.2 64.8L144.8 55.6L142 51L139.2 45.5L125.4 55.6Z" fill="#50aaf8"/><path d="M177 68.5L185.9 66.6L198 68L205.4 69.8L198 72.6L184.2 72.6Z" fill="#50aaf8"/><path d="M52.1 138.3L55.7 136.4L59.4 139.2L58.5 143.8L55.7 146.5L52.1 144.5Z" fill="#50aaf8"/><path d="M217.3 0L222.8 13.4L224 13.4L224 0Z" fill="#50aaf8"/><pattern id="ste" patternUnits="userSpaceOnUse" x="7.5" y="1.4" width="9.4" height="9.4"><rect x="0" y="0" width="2.1" height="2.1" fill="#0606ff"/><rect x="4.7" y="4.7" width="2.1" height="2.1" fill="#0606ff"/></pattern><path d="M4.8 -1.1L31.4 -1.1L40.1 11.5L29.1 24L25.4 23.5ZM64.9 47L70.6 51.8L76.2 51.8L76.2 33L83.7 28L104.2 47.3L119.3 47.3L118.2 40L128.2 28.3L142 28.3L152 40L148.4 44.8L151.8 49.6L151.2 61.6L146.7 65.5L160.7 65.5L165.2 56.3L179.8 56.3L188.7 65.5L207.2 65.5L210 61L212.8 61L217.8 68.3L207.2 80.1L193.8 80.1L193.8 117L198.8 122.1L198.8 126.6L188.7 136.6L175.3 141.1L170.2 145.6L155.7 145.6L155.7 150.1L132.7 150.1L132.7 154.6L109.2 154.6L109.2 150.1L96.3 150.1L96.3 154.6L81.2 154.6L81.2 159.6L58.2 159.6L58.2 154.6L43.7 154.6L39.2 150.1L39.2 136.1L52.9 121.5L52.9 114.2L58.2 110.9L81.2 87.4L81.2 77.8L90.7 68.3L90.7 56.6L77 56.6L77 61L62.7 61L62.7 66.1L57.7 70.6L62.7 72.9L57.7 79.8L43.7 79.8L39.2 72.9L53.2 58.8L58 54.2ZM217.8 52.1L221.2 52.1L221.2 55.4L217.8 55.4Z" fill="url(#ste)"/>
<use href="#coast" color="#5a4b44"/>
</g>
<rect x="0" y="0" width="224" height="224" fill="none" stroke="#000" stroke-width="1.7"/>
<path d="M0 224v6M56 224v6M112 224v6M168 224v6M224 224v6M0 28h-5.5M0 84h-5.5M0 140h-5.5M0 196h-5.5" stroke="#000" stroke-width="1.6" fill="none"/>
<text x="-15.3" y="243.8" font-size="13.1" textLength="30.6" lengthAdjust="spacingAndGlyphs">100°E</text>
<text x="40.7" y="243.8" font-size="13.1" textLength="30.6" lengthAdjust="spacingAndGlyphs">110°E</text>
<text x="96.7" y="243.8" font-size="13.1" textLength="30.6" lengthAdjust="spacingAndGlyphs">120°E</text>
<text x="152.7" y="243.8" font-size="13.1" textLength="30.6" lengthAdjust="spacingAndGlyphs">130°E</text>
<text x="208.7" y="243.8" font-size="13.1" textLength="30.6" lengthAdjust="spacingAndGlyphs">140°E</text>
<text x="-40.9" y="32.4" font-size="13.1" textLength="26.4" lengthAdjust="spacingAndGlyphs">50°N</text>
<text x="-40.9" y="88.4" font-size="13.1" textLength="26.4" lengthAdjust="spacingAndGlyphs">40°N</text>
<text x="-40.9" y="144.4" font-size="13.1" textLength="26.4" lengthAdjust="spacingAndGlyphs">30°N</text>
<text x="-40.9" y="200.4" font-size="13.1" textLength="26.4" lengthAdjust="spacingAndGlyphs">20°N</text>
<text x="-0.5" y="-9" font-size="14.4" xml:space="preserve" textLength="157.4" lengthAdjust="spacingAndGlyphs"><tspan font-weight="normal">(e)</tspan> SLP (diff) DJF  rcp45</text>
</g>
<g transform="translate(350.3,586.6)">
<g clip-path="url(#box)">
<rect x="-1" y="-1" width="226" height="226" fill="#99eaff"/><path d="M224 82.1L215.4 85.8L204.4 91.3L191.5 99.6L186 112.4L180.5 117L178.6 121.5L177.8 128L173.2 133.5L167.7 136.9L163.1 139L153 144.5L139.2 151L125.4 157.4L111.2 160.2L97.4 158.3L92.4 160.2L78.6 166.3L68.5 170.2L64 175.7L58.5 183.1L49.3 185.9L41.9 186.8L36.4 182.2L32.8 175.7L29.1 168.4L25.4 162L24.5 155.6L23.5 147.3L21.7 140L23.5 133.5L28.2 126.2L26.3 112.4L19.6 106.4L0 106.4L0 224L224 224Z" fill="#bcf9ff"/><path d="M0 171.1L9 173.9L12.5 177.5L11.6 183.1L18 190.4L27.2 197.8L36.4 207.9L45.6 211.6L56.6 211.6L64 205.1L71.3 199.6L80.5 192.2L93.4 189.1L97.4 189.1L106.6 185.4L120.4 179L129.6 175.3L139.4 168.6L153 164.7L167.7 159.2L181.4 149.1L195.2 139L207.2 128.9L217.3 122.5L224 118.7L224 224L0 224Z" fill="#ffffff"/><path d="M65.5 0L69.4 8.2L83.2 2.7L89.6 13.3L98.8 16.9L111.7 19L115.8 14.2L117.2 2.2L116.8 0Z" fill="#bcf9ff"/><path d="M132.7 0L139.2 9.1L153 9.1L160.3 15.1L164.1 23.4L167.7 28L181.4 33.9L195.2 34.4L209 44.5L213.6 45.4L222.8 39L210.8 30.7L207.2 22.4L204.4 14.2L196.2 8.7L184.2 0Z" fill="#bcf9ff"/><path d="M0 32.5L5.2 36.2L12.5 41.7L5.2 44.5L0 44.8Z" fill="#bcf9ff"/><path d="M0 39.4L3.8 41.7L0 43.1Z" fill="#ffffff"/><path d="M38.2 41.7L43.7 39.9L51.1 41.7L42.8 44.5Z" fill="#bcf9ff"/><path d="M0 0L48.7 0L52.9 10.5L49.3 23.4L39.2 33.4L28.2 40.8L18 34.4L8.9 28L0 23.4Z" fill="#75d3ff"/><path d="M0 0L30 0L36.4 8.7L39.2 14.2L37.8 19.6L34.6 26.1L28.2 31.1L19.9 26.5L13.4 22.4L7.1 16L0 11Z" fill="#50aaf8"/><path d="M0 52.7L13.4 49.1L27.2 47.7L32.8 51.8L38.2 56.4L55.7 53.2L69.4 50.4L75.9 40.8L84.2 30.7L98.8 41.7L111.7 48.2L125.4 44.5L140.2 36.7L147.5 46.3L153 56.4L148.4 65.5L145.6 74.8L146.6 84L150.2 91.3L155.7 99.6L157.6 106L154 112.4L150.2 117L146.6 122.5L139.2 129.9L130 138.1L120.9 142.2L111.7 145L103.4 145.6L97 147.8L90.6 151.9L83.2 155.6L69.4 157.4L55.7 160.2L47.6 164.6L40.1 168L38.2 160.2L35.5 152.8L30 146.4L22.6 140L24.5 134.4L28.2 126.6L42.8 129.9L45.6 124.3L39.2 112.4L47.4 108.7L55.7 107L69.4 105.1L72.2 100.5L75 93.1L77.7 84L82.3 76.2L91.5 69.3L84.2 61.4L69.4 71.1L55.7 81.2L47.4 84.8L41 87.6L36.4 93.1L29.1 102.3L24.5 107.8L19.6 110.3L0 110.3Z" fill="#75d3ff"/><path d="M164.1 68.3L167.7 64.7L175.1 61L183.3 57.3L190.6 61.9L198 65.5L209 69.7L198 75.2L181.4 78L167.7 72.9Z" fill="#75d3ff"/><path d="M212.8 7.8L217.8 14L222.9 18.5L224 18.5L224 0L218.4 0L216.2 5.6Z" fill="#75d3ff"/><path d="M111.7 68.9L105.3 76.6L96.1 84.8L88.8 91.3L83.2 96.8L82.3 104.2L84.2 112.4L83.2 119.7L84.2 126.2L92.4 128L101.6 126.2L107.1 123.4L111.7 121.2L115.4 117.9L115.4 113.3L118.2 112.4L120.9 102.3L124.5 93.1L125.4 84L127.3 74.8L125.4 65.5L118.2 64.7Z" fill="#50aaf8"/><path d="M5.6 83.4L13.4 78L19.9 83.4L13.4 86.2Z" fill="#50aaf8"/><path d="M26.3 134.4L30.9 135.8L36.4 140L30 144.5L26.3 140.8Z" fill="#50aaf8"/><path d="M47.4 140L49.3 137.2L55.7 133.8L59.4 138.1L58.5 142.7L55.7 146.4L51.1 145.4Z" fill="#50aaf8"/><pattern id="stf" patternUnits="userSpaceOnUse" x="2.5" y="2.7" width="9.4" height="9.4"><rect x="0" y="0" width="2.1" height="2.1" fill="#0606ff"/><rect x="4.7" y="4.7" width="2.1" height="2.1" fill="#0606ff"/></pattern><path d="M100.8 53.2L120.4 53.2L128.2 43.7L142.2 43.7L142.2 76.6L146.6 77.1L151.6 81.6L151.6 85.8L165.4 86.7L170.5 81.2L170.5 112.4L175.3 114.2L175.3 128.2L170.5 133.1L161.3 133.1L152.1 142.2L128.2 142.7L128.2 147.3L86 147.3L86 151.9L81.4 156.5L55.7 156.5L52.6 151.8L48.2 146.7L34.2 142.2L34.2 137.8L52.6 133.3L52.6 116.5L63.1 112.4L76.3 99.6L76.3 89.9L95.2 71.1L95.2 57.3ZM11.5 2.1L15.5 2.1L15.5 6L11.5 6ZM25.3 6.7L29.2 6.7L29.2 10.6L25.3 10.6ZM20.7 11.3L24.6 11.3L24.6 15.2L20.7 15.2ZM30.4 11.3L34.3 11.3L34.3 15.2L30.4 15.2ZM180 67.8L183.9 67.8L183.9 71.7L180 71.7Z" fill="url(#stf)"/>
<use href="#coast" color="#5a4b44"/>
</g>
<rect x="0" y="0" width="224" height="224" fill="none" stroke="#000" stroke-width="1.7"/>
<path d="M0 224v6M56 224v6M112 224v6M168 224v6M224 224v6M0 28h-5.5M0 84h-5.5M0 140h-5.5M0 196h-5.5" stroke="#000" stroke-width="1.6" fill="none"/>
<text x="-15.3" y="242.2" font-size="13.1" textLength="30.6" lengthAdjust="spacingAndGlyphs">100°E</text>
<text x="40.7" y="242.2" font-size="13.1" textLength="30.6" lengthAdjust="spacingAndGlyphs">110°E</text>
<text x="96.7" y="242.2" font-size="13.1" textLength="30.6" lengthAdjust="spacingAndGlyphs">120°E</text>
<text x="152.7" y="242.2" font-size="13.1" textLength="30.6" lengthAdjust="spacingAndGlyphs">130°E</text>
<text x="208.7" y="242.2" font-size="13.1" textLength="30.6" lengthAdjust="spacingAndGlyphs">140°E</text>
<text x="-40.9" y="32.4" font-size="13.1" textLength="26.4" lengthAdjust="spacingAndGlyphs">50°N</text>
<text x="-40.9" y="88.4" font-size="13.1" textLength="26.4" lengthAdjust="spacingAndGlyphs">40°N</text>
<text x="-40.9" y="144.4" font-size="13.1" textLength="26.4" lengthAdjust="spacingAndGlyphs">30°N</text>
<text x="-40.9" y="200.4" font-size="13.1" textLength="26.4" lengthAdjust="spacingAndGlyphs">20°N</text>
<text x="-0.5" y="-10.2" font-size="14.4" xml:space="preserve" textLength="153.2" lengthAdjust="spacingAndGlyphs"><tspan font-weight="normal">(f)</tspan> SLP (diff) DJF  rcp85</text>
</g>
<g transform="translate(33.6,841.8)">
<rect x="0" y="0" width="26.6" height="17" fill="#50aaf8" stroke="#1a1a1a" stroke-width="0.8"/>
<rect x="26.6" y="0" width="26.6" height="17" fill="#75d3ff" stroke="#1a1a1a" stroke-width="0.8"/>
<rect x="53.3" y="0" width="26.6" height="17" fill="#99eaff" stroke="#1a1a1a" stroke-width="0.8"/>
<rect x="79.9" y="0" width="26.6" height="17" fill="#bcf9ff" stroke="#1a1a1a" stroke-width="0.8"/>
<rect x="106.5" y="0" width="26.6" height="17" fill="#ffffff" stroke="#1a1a1a" stroke-width="0.8"/>
<rect x="133.2" y="0" width="26.6" height="17" fill="#fff1bc" stroke="#1a1a1a" stroke-width="0.8"/>
<rect x="159.8" y="0" width="26.6" height="17" fill="#ffd699" stroke="#1a1a1a" stroke-width="0.8"/>
<rect x="186.4" y="0" width="26.6" height="17" fill="#ffac75" stroke="#1a1a1a" stroke-width="0.8"/>
<rect x="213" y="0" width="26.6" height="17" fill="#ff7856" stroke="#1a1a1a" stroke-width="0.8"/>
<text x="26.6" y="32.6" font-size="13.1" text-anchor="middle">-2</text>
<text x="53.3" y="32.6" font-size="13.1" text-anchor="middle">-1.5</text>
<text x="79.9" y="32.6" font-size="13.1" text-anchor="middle">-1</text>
<text x="106.5" y="32.6" font-size="13.1" text-anchor="middle">-0.5</text>
<text x="133.2" y="32.6" font-size="13.1" text-anchor="middle">0.5</text>
<text x="159.8" y="32.6" font-size="13.1" text-anchor="middle">1</text>
<text x="186.4" y="32.6" font-size="13.1" text-anchor="middle">1.5</text>
<text x="213" y="32.6" font-size="13.1" text-anchor="middle">2</text>
<text x="246.8" y="21.7" font-size="13.8">°C</text>
</g>
<g transform="translate(342.9,841.8)">
<rect x="0" y="0" width="26.5" height="17" fill="#50aaf8" stroke="#1a1a1a" stroke-width="0.8"/>
<rect x="26.5" y="0" width="26.5" height="17" fill="#75d3ff" stroke="#1a1a1a" stroke-width="0.8"/>
<rect x="53.1" y="0" width="26.5" height="17" fill="#99eaff" stroke="#1a1a1a" stroke-width="0.8"/>
<rect x="79.6" y="0" width="26.5" height="17" fill="#bcf9ff" stroke="#1a1a1a" stroke-width="0.8"/>
<rect x="106.1" y="0" width="26.5" height="17" fill="#ffffff" stroke="#1a1a1a" stroke-width="0.8"/>
<rect x="132.7" y="0" width="26.5" height="17" fill="#fff1bc" stroke="#1a1a1a" stroke-width="0.8"/>
<rect x="159.2" y="0" width="26.5" height="17" fill="#ffd699" stroke="#1a1a1a" stroke-width="0.8"/>
<rect x="185.7" y="0" width="26.5" height="17" fill="#ffac75" stroke="#1a1a1a" stroke-width="0.8"/>
<rect x="212.2" y="0" width="26.5" height="17" fill="#ff7856" stroke="#1a1a1a" stroke-width="0.8"/>
<text x="26.5" y="32.6" font-size="13.1" text-anchor="middle">-2</text>
<text x="53.1" y="32.6" font-size="13.1" text-anchor="middle">-1.5</text>
<text x="79.6" y="32.6" font-size="13.1" text-anchor="middle">-1</text>
<text x="106.1" y="32.6" font-size="13.1" text-anchor="middle">-0.5</text>
<text x="132.7" y="32.6" font-size="13.1" text-anchor="middle">0.5</text>
<text x="159.2" y="32.6" font-size="13.1" text-anchor="middle">1</text>
<text x="185.7" y="32.6" font-size="13.1" text-anchor="middle">1.5</text>
<text x="212.2" y="32.6" font-size="13.1" text-anchor="middle">2</text>
<text x="245.3" y="21.7" font-size="13.8">hPa</text>
</g>
</svg></body></html>
